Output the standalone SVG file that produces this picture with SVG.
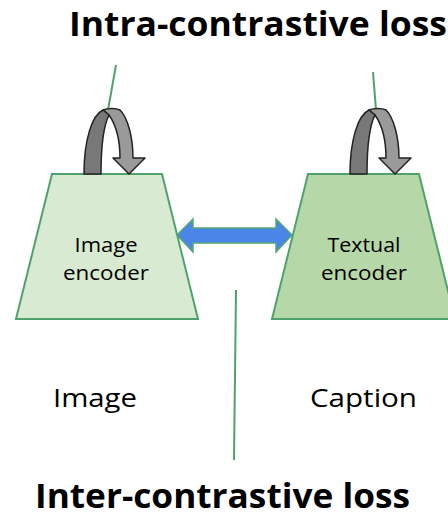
<svg xmlns="http://www.w3.org/2000/svg" width="448" height="519" viewBox="0 0 448 519">
<style>
.title{font-family:"Open Sans","Liberation Sans",sans-serif;font-weight:bold;font-size:34px;fill:#000}
.lbl{font-family:"Open Sans","Liberation Sans",sans-serif;font-size:26px;fill:#000}
.enc{font-family:"Open Sans","Liberation Sans",sans-serif;font-size:20px;fill:#000}
.trap{stroke:#4fa26c;stroke-width:2}
.gline{stroke:#4fa26c;stroke-width:2;fill:none}
.dark{fill:#787878;stroke:#222;stroke-width:1.5;stroke-linejoin:round}
.light{fill:#9a9a9a;stroke:#222;stroke-width:1.5;stroke-linejoin:round}
</style>
<defs>
<g id="uturn">
<path class="light" d="M103,110 C108,108 116,108 120,110 C128,118 133,138 133,158 L145,158 L129,174 L113,158 L120,158 C120,140 116,125 109,115 Z"/>
<path class="dark" d="M84,174 C84,140 92,115 103,110 L109,115 C104,125 101,145 101,174 Z"/>
</g>
</defs>
<rect width="448" height="519" fill="#fff"/>
<g id="connectors">
<line class="gline" x1="116" y1="65" x2="108" y2="110"/>
<line class="gline" x1="373" y1="72" x2="376" y2="110"/>
<line class="gline" x1="236" y1="290" x2="234" y2="460"/>
<path d="M177,235 L193,219 L193,228 L276,228 L276,219 L292,235 L276,252 L276,243 L193,243 L193,252 Z" fill="#4a86e8" stroke="#57a773" stroke-width="1.5" stroke-linejoin="miter"/>
</g>
<g id="image-encoder">
<polygon class="trap" points="52,174 162,174 198,319 16,319" fill="#d9ead3"/>
<text class="enc" x="106" y="252" text-anchor="middle" textLength="63" lengthAdjust="spacingAndGlyphs">Image</text>
<text class="enc" x="106" y="280" text-anchor="middle" textLength="86" lengthAdjust="spacingAndGlyphs">encoder</text>
</g>
<g id="textual-encoder">
<polygon class="trap" points="308,174 419,174 455,319 272,319" fill="#b6d7a8"/>
<text class="enc" x="364" y="252" text-anchor="middle" textLength="73" lengthAdjust="spacingAndGlyphs">Textual</text>
<text class="enc" x="364" y="280" text-anchor="middle" textLength="86" lengthAdjust="spacingAndGlyphs">encoder</text>
</g>
<g id="intra-loop-left"><use href="#uturn"/></g>
<g id="intra-loop-right"><use href="#uturn" x="266"/></g>
<g id="image-label"><text class="lbl" x="95" y="407" text-anchor="middle" textLength="84" lengthAdjust="spacingAndGlyphs">Image</text></g>
<g id="caption-label"><text class="lbl" x="363.5" y="407" text-anchor="middle" textLength="107" lengthAdjust="spacingAndGlyphs">Caption</text></g>
<g id="intra-title"><text class="title" x="258" y="36" text-anchor="middle" textLength="378" lengthAdjust="spacingAndGlyphs">Intra-contrastive loss</text></g>
<g id="inter-title"><text class="title" x="222.5" y="508" text-anchor="middle" font-size="32" textLength="375" lengthAdjust="spacingAndGlyphs">Inter-contrastive loss</text></g>
</svg>
